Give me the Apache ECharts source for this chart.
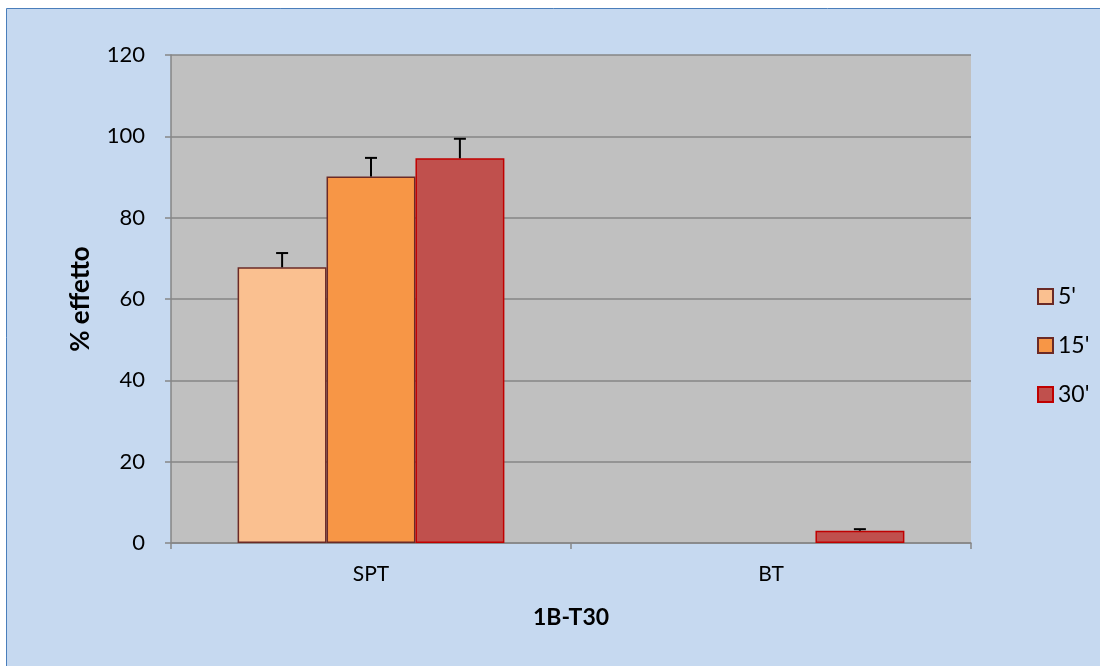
<!DOCTYPE html>
<html><head><meta charset="utf-8">
<script src="https://cdn.jsdelivr.net/npm/echarts@6/dist/echarts.min.js"></script>
<style>html,body{margin:0;padding:0;background:#fff}#c{width:1100px;height:666px}</style>
</head><body><div id="c"></div>
<script>
const categories = ['SPT', 'BT'];
const seriesNames = ["5'", "15'", "30'"];
const values5 = [67.8, null];
const values15 = [90.1, null];
const values30 = [94.6, 3.0];
const err5 = [3.5, null];
const err15 = [4.6, null];
const err30 = [4.8, 0.4];
const yTicks = [0, 20, 40, 60, 80, 100, 120];

const fills = ['#fac090', '#f79646', '#c0504d'];
const borders = ['#6b2a26', '#6b2a26', '#c00000'];
const allVals = [values5, values15, values30];
const allErr = [err5, err15, err30];

const errData = [];
allVals.forEach((vals, s) => {
  vals.forEach((v, c) => {
    if (v != null && allErr[s][c] != null) errData.push([c, s, v, v + allErr[s][c]]);
  });
});

const FONT = 'Lato, "Liberation Sans", sans-serif';
const chart = echarts.init(document.getElementById('c'), null, {renderer: 'canvas'});
const catGap = 1 / 3;

const barSeries = seriesNames.map((n, i) => ({
  name: n, type: 'bar', data: allVals[i],
  barGap: '0%', barCategoryGap: '33.3%',
  itemStyle: {color: fills[i], borderColor: borders[i], borderWidth: 1.5},
  emphasis: {disabled: true}
}));

chart.setOption({
  animation: false,
  backgroundColor: '#ffffff',
  graphic: [{
    type: 'rect', z: -10, silent: true,
    shape: {x: 6.5, y: 8.5, width: 1100, height: 670},
    style: {fill: '#c6d9f0', stroke: '#4a7ebb', lineWidth: 1}
  }],
  grid: {left: 171, top: 55, width: 800, height: 488, show: true, backgroundColor: '#c0c0c0', borderWidth: 0},
  legend: {
    orient: 'vertical', left: 1032, top: 280, itemGap: 26,
    itemWidth: 15, itemHeight: 15, icon: 'rect',
    textStyle: {fontFamily: FONT, fontSize: 23, color: '#000'},
    data: seriesNames
  },
  xAxis: {
    type: 'category', data: categories,
    name: '1B-T30', nameLocation: 'middle', nameGap: 63,
    nameTextStyle: {fontFamily: FONT, fontSize: 23, fontWeight: 'bold', color: '#000'},
    axisLine: {lineStyle: {color: '#868686', width: 1.5}},
    axisTick: {show: true, length: 6, lineStyle: {color: '#868686', width: 1.5}},
    axisLabel: {fontFamily: FONT, fontSize: 21, color: '#000', margin: 21},
    splitLine: {show: false}
  },
  yAxis: {
    type: 'value', min: 0, max: 120, interval: 20,
    name: '% effetto', nameLocation: 'middle', nameGap: 77,
    nameTextStyle: {fontFamily: FONT, fontSize: 26, fontWeight: 'bold', color: '#000'},
    axisLine: {show: true, lineStyle: {color: '#868686', width: 1.5}},
    axisTick: {show: true, length: 6, lineStyle: {color: '#868686', width: 1.5}},
    axisLabel: {fontFamily: FONT, fontSize: 22, color: '#000', margin: 26,
      formatter: v => yTicks.includes(v) ? String(v) : ''},
    splitLine: {show: true, lineStyle: {color: '#868686', width: 1.5}}
  },
  series: barSeries.concat([{
    type: 'custom', name: 'err', z: 5, silent: true,
    data: errData,
    encode: {x: 0, y: [2, 3]},
    renderItem: function (params, api) {
      const c = api.value(0), s = api.value(1), v = api.value(2), e = api.value(3);
      const band = api.size([1, 0])[0];
      const bw = band * (1 - catGap) / 3;
      const p0 = api.coord([c, v]);
      const p1 = api.coord([c, e]);
      const x = p0[0] + (s - 1) * bw;
      const cap = 6;
      return {
        type: 'group',
        children: [
          {type: 'line', shape: {x1: x, y1: p0[1], x2: x, y2: p1[1]}, style: {stroke: '#000', lineWidth: 2}},
          {type: 'line', shape: {x1: x - cap, y1: p1[1], x2: x + cap, y2: p1[1]}, style: {stroke: '#000', lineWidth: 2}}
        ]
      };
    }
  }])
});
</script></body></html>
